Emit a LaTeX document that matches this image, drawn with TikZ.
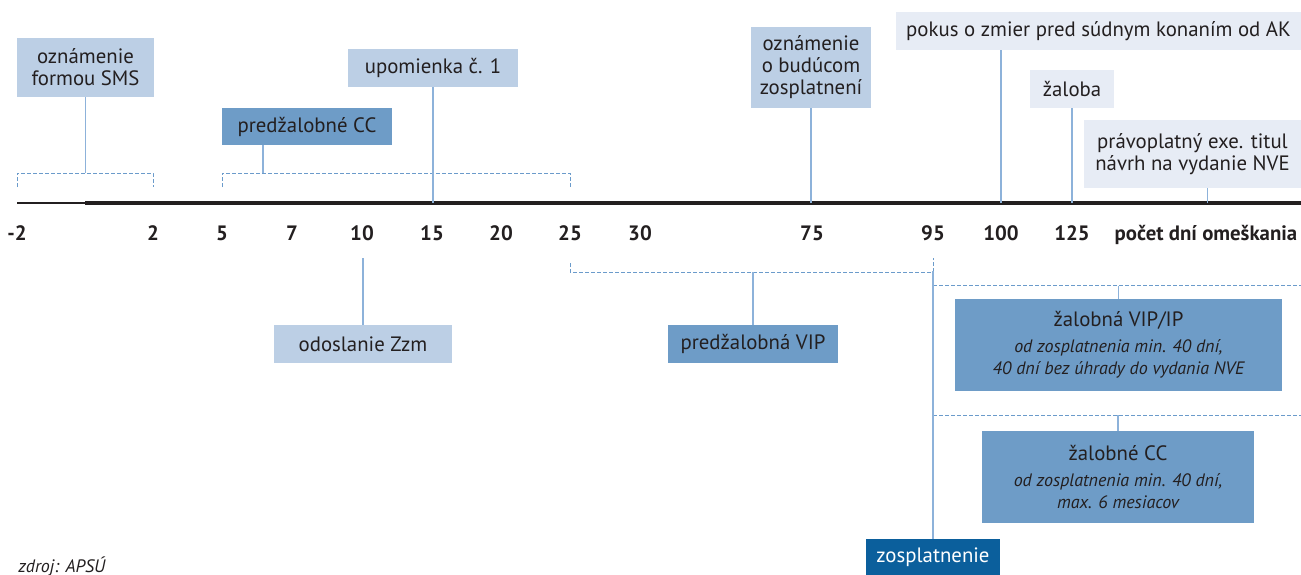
\documentclass[tikz,border=0pt]{standalone}
\usepackage{fontspec}
\setmainfont{PT Sans}
\definecolor{boxlight}{HTML}{BCCFE5}
\definecolor{boxmid}{HTML}{6E9CC7}
\definecolor{boxpale}{HTML}{E7ECF5}
\definecolor{boxdark}{HTML}{0B5F9C}
\definecolor{linkblue}{HTML}{8DB2DA}
\definecolor{dashblue}{HTML}{6B9BCB}
\definecolor{ink}{HTML}{231F20}
\tikzset{
  evbox/.style={inner sep=0pt, align=center, text=ink,
    font=\fontsize{10.4}{11}\selectfont},
  lightbox/.style={evbox, fill=boxlight},
  midbox/.style={evbox, fill=boxmid},
  palebox/.style={evbox, fill=boxpale},
  darkbox/.style={evbox, fill=boxdark, text=white},
  daylbl/.style={anchor=base, inner sep=0pt, text=ink,
    font=\bfseries\fontsize{10.4}{11}\selectfont},
  link/.style={draw=linkblue, line width=0.8pt},
  bracket/.style={draw=dashblue, line width=0.5pt, dash pattern=on 2pt off 1pt}
}
\newcommand{\smallit}[1]{{\fontsize{9}{10}\selectfont\itshape #1}}

\begin{document}
\begin{tikzpicture}[x=0.5pt,y=-0.5pt]
      \useasboundingbox (0,0) rectangle (1301,574);
      % time axis
      \coordinate (ax0) at (17,203);
      \coordinate (ax1) at (85,203);
      \coordinate (ax2) at (1301,203);
      \draw[ink, line width=0.6pt] (ax0) -- (ax1);
      \draw[ink, line width=2pt] (ax1) -- (ax2);
      \foreach \d/\x/\n in {-2/17/m2, 2/153/2, 5/222/5, 7/292/7, 10/362/10, 15/432/15,
          20/501/20, 25/570/25, 30/640/30, 75/812/75, 95/933/95, 100/1001/100, 125/1072/125}
        \node[daylbl] (d\n) at (\x,240) {\d};
      \node[daylbl] (unit) at (1206,240) {počet dní omeškania};

      % above the axis
      \node[lightbox, minimum width=68.5pt, minimum height=29.5pt] (sms) at (85.5,67.5)
        {oznámenie\\formou SMS};
      \node[midbox, minimum width=85pt, minimum height=18.5pt] (precc) at (307,126.5)
        {predžalobné CC};
      \node[lightbox, minimum width=85pt, minimum height=19pt] (upom) at (433,68)
        {upomienka č. 1};
      \node[lightbox, minimum width=60pt, minimum height=40.5pt] (ozn) at (811,67.5)
        {oznámenie\\o budúcom\\zosplatnení};
      \node[palebox, minimum width=202.5pt, minimum height=19pt] (pokus) at (1098.5,31)
        {pokus o zmier pred súdnym konaním od AK};
      \node[palebox, minimum width=42pt, minimum height=19pt] (zaloba) at (1072,89)
        {žaloba};
      \node[palebox, minimum width=108.5pt, minimum height=34pt] (prav) at (1192.5,154)
        {právoplatný exe. titul\\návrh na vydanie NVE};

      \draw[bracket] (17,187) -- ++(0,-14) -| (153,187);
      \draw[bracket] (222,187) -- ++(0,-14) -| (570,187);
      \draw[link] (sms.south) -- ++(0,76);
      \draw[link] ([xshift=-22pt]precc.south) -- ++(0,28);
      \draw[link] (upom.south) -- (upom.south |- ax1);
      \draw[link] (ozn.south) -- (ozn.south |- ax1);
      \draw[link] (d100 |- pokus.south) -- (d100 |- ax1);
      \draw[link] (zaloba.south) -- (zaloba.south |- ax1);
      \draw[link] ([xshift=7.5pt]prav.south) -- ++(0,15);

      % below the axis
      \node[lightbox, minimum width=89pt, minimum height=19pt] (odos) at (363,344)
        {odoslanie Zzm};
      \node[midbox, minimum width=85pt, minimum height=19pt] (previp) at (753,344)
        {predžalobná VIP};
      \node[midbox, minimum width=163.5pt, minimum height=46pt] (zvip) at (1118.5,345)
        {žalobná VIP/IP\\[2pt]\smallit{od zosplatnenia min. 40 dní,}\\\smallit{40 dní bez úhrady do vydania NVE}};
      \node[midbox, minimum width=136pt, minimum height=46pt] (zcc) at (1118,477)
        {žalobné CC\\[2pt]\smallit{od zosplatnenia min. 40 dní,}\\\smallit{max. 6 mesiacov}};
      \node[darkbox, minimum width=67pt, minimum height=18pt] (zosp) at (933,557)
        {zosplatnenie};

      \draw[bracket] (570,263) -- ++(0,9) -| (933,258);
      \draw[bracket] (933,285) -- (1301,285);
      \draw[bracket] (933,415) -- (1301,415);
      \draw[link] (odos.north) -- ++(0,-67);
      \draw[link] (previp.north) -- ++(0,-53);
      \draw[link] (zosp.north) -- ++(0,-268);
      \draw[link] (zvip.north) -- ++(0,-13);
      \draw[link] (zcc.north) -- ++(0,-16);

      \node[anchor=base west, inner sep=0pt, text=ink, font=\itshape\fontsize{9}{11}\selectfont]
        (src) at (18,572) {zdroj: APSÚ};
    \end{tikzpicture}
\end{document}
